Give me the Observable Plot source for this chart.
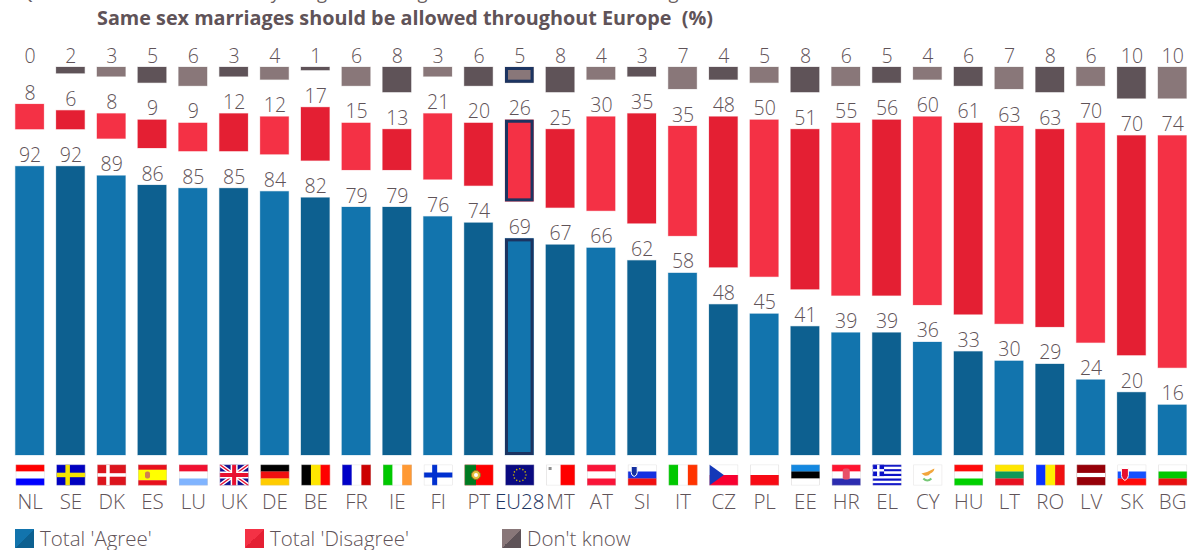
<!DOCTYPE html>
<html>
<head>
<meta charset="utf-8">
<script src="https://cdn.jsdelivr.net/npm/d3@7"></script>
<script src="https://cdn.jsdelivr.net/npm/@observablehq/plot@0.6"></script>
<style>
html,body{margin:0;padding:0;background:#fff;overflow:hidden;width:1188px;height:550px}
body{font-family:"Open Sans",sans-serif;color:#5f5358}
#head{position:relative;height:40px;overflow:hidden}
#question{position:absolute;left:20px;top:-21px;font-size:18.3px;white-space:nowrap;color:#6a5e61}
#question .code{display:inline-block;width:92px}
#title{position:absolute;left:97px;top:5px;font-size:19.8px;font-weight:700;white-space:nowrap;color:#5f5358;line-height:26px}
#legend{position:relative;height:32px;font-size:20.5px;font-weight:300}
#legend .item{position:absolute;top:9px;display:flex;align-items:center;height:22px;white-space:nowrap}
#legend .sw{width:19px;height:19px;margin-right:6px;display:inline-block}
svg{display:block}
</style>
</head>
<body>
<div id="head">
  <div id="question"><span class="code">QB15</span>To what extent do you agree or disagree with each of the following statements</div>
  <div id="title">Same sex marriages should be allowed throughout Europe&nbsp; (%)</div>
</div>
<div id="chart"></div>
<div id="legend"></div>
<script>
const codes = ["NL","SE","DK","ES","LU","UK","DE","BE","FR","IE","FI","PT","EU28","MT","AT","SI","IT","CZ","PL","EE","HR","EL","CY","HU","LT","RO","LV","SK","BG"];
const agree = [92,92,89,86,85,85,84,82,79,79,76,74,69,67,66,62,58,48,45,41,39,39,36,33,30,29,24,20,16];
const disagree = [8,6,8,9,9,12,12,17,15,13,21,20,26,25,30,35,35,48,50,51,55,56,60,61,63,63,70,70,74];
const dontKnow = [0,2,3,5,6,3,4,1,6,8,3,6,5,8,4,3,7,4,5,8,6,5,4,6,7,8,6,10,10];
const seriesNames = ["Total 'Agree'","Total 'Disagree'","Don't know"];
const highlighted = "EU28";

const gap = 11.8; // blank space between stacked segments, in value units
const rows = codes.flatMap((code, i) => {
  const shade = i % 2 ? "dark" : "light";
  const a = agree[i], d = disagree[i], k = dontKnow[i];
  return [
    {code, value:a, series:seriesNames[0], key:"a-"+shade, y1:0, y2:a},
    {code, value:d, series:seriesNames[1], key:"d-"+shade, y1:a+gap, y2:a+gap+d},
    {code, value:k, series:seriesNames[2], key:"k-"+shade, y1:a+gap+d+gap, y2:a+gap+d+gap+k}
  ];
});

const s = (c,w)=>{const n=c.length;return c.map((f,i)=>`<rect x="0" y="${i*21/n}" width="29" height="${21/n+.2}" fill="${f}"/>`).join("")};
const v = (c)=>{const n=c.length;return c.map((f,i)=>`<rect x="${i*29/n}" y="0" width="${29/n+.2}" height="21" fill="${f}"/>`).join("")};
const stars = Array.from({length:12},(_,i)=>`<circle cx="${14.5+6.2*Math.cos(i*Math.PI/6)}" cy="${10.5+6.2*Math.sin(i*Math.PI/6)}" r="0.8" fill="#c8b400"/>`).join("");
const greek = Array.from({length:9},(_,i)=>`<rect x="0" y="${i*21/9}" width="29" height="${21/9}" fill="${i%2?'#fff':'#0a10c8'}"/>`).join("");
const flags = {
  NL:s(["#ff0000","#fff","#0000ff"]),
  SE:`<rect width="29" height="21" fill="#0000c0"/><rect x="9" width="4.5" height="21" fill="#f5e400"/><rect y="8.2" width="29" height="4.5" fill="#f5e400"/>`,
  DK:`<rect width="29" height="21" fill="#dc141c"/><rect x="9" width="3.5" height="21" fill="#fff"/><rect y="8.7" width="29" height="3.5" fill="#fff"/>`,
  ES:s(["#e8101c","#ffff00","#ffff00","#e8101c"])+`<rect x="7" y="7" width="5" height="7" rx="2" fill="#d08050"/>`,
  LU:s(["#f01030","#fff","#80b4ff"]),
  UK:`<rect width="29" height="21" fill="#101090"/><path d="M0 0L29 21M29 0L0 21" stroke="#fff" stroke-width="4"/><path d="M0 0L29 21M29 0L0 21" stroke="#e81030" stroke-width="1.4"/><rect x="11" width="7" height="21" fill="#fff"/><rect y="7" width="29" height="7" fill="#fff"/><rect x="12.5" width="4" height="21" fill="#e81030"/><rect y="8.5" width="29" height="4" fill="#e81030"/>`,
  DE:s(["#000","#f01010","#ffcc00"]),
  BE:v(["#000","#ffe600","#ff0000"]),
  FR:v(["#0000c8","#fff","#cc0000"]),
  IE:v(["#00c800","#fff","#ff9933"]),
  FI:`<rect width="29" height="21" fill="#fff"/><rect x="8.5" width="5" height="21" fill="#0030d0"/><rect y="8" width="29" height="5" fill="#0030d0"/>`,
  PT:`<rect width="29" height="21" fill="#ff0000"/><rect width="11.5" height="21" fill="#007a20"/><circle cx="11.5" cy="10.5" r="4.5" fill="#e8c040" stroke="#907020"/><circle cx="11.5" cy="10.5" r="2" fill="#fff"/>`,
  EU28:`<rect width="29" height="21" fill="#0a0a80"/>`+stars,
  MT:v(["#fff","#ff0000"])+`<rect x="2.5" y="2.5" width="3" height="3" fill="#909090"/>`,
  AT:s(["#fa1438","#fff","#fa1438"]),
  SI:s(["#fff","#1430e0","#f01010"])+`<path d="M3.5 2h6v6q0 3-3 4q-3-1-3-4z" fill="#1430a0" stroke="#fff"/>`,
  IT:v(["#00c800","#fff","#ff3300"]),
  CZ:s(["#fff","#f80030"])+`<path d="M0 0L14.5 10.5L0 21z" fill="#1438b8"/>`,
  PL:s(["#fff","#f80a14"]),
  EE:s(["#1488e0","#000","#fff"]),
  HR:s(["#ff1430","#fff","#2c2cb0"])+`<rect x="11" y="4" width="7" height="11" rx="2" fill="#e85068"/>`,
  EL:greek+`<rect width="11.5" height="11.6" fill="#0a10c8"/><rect x="4.5" width="2.5" height="11.6" fill="#fff"/><rect y="4.6" width="11.5" height="2.4" fill="#fff"/>`,
  CY:`<rect width="29" height="21" fill="#fff"/><path d="M8 9q6-1 13-5q0 3-4 5q-2 3-6 2z" fill="#f2a63c"/><path d="M10 14q4 4 8 0" fill="none" stroke="#78c878" stroke-width="2"/>`,
  HU:s(["#ff0a0a","#fff","#00d000"]),
  LT:s(["#ffe600","#109858","#e81020"]),
  RO:v(["#0a32ff","#ffee00","#f01010"]),
  LV:`<rect width="29" height="21" fill="#960008"/><rect y="8.4" width="29" height="4.2" fill="#fff"/>`,
  SK:s(["#fff","#1450ff","#ff0a0a"])+`<path d="M4 4h7v7q0 3-3.5 5q-3.5-2-3.5-5z" fill="#e81030" stroke="#fff"/>`,
  BG:s(["#fff","#00c800","#e81010"])
};
const flagUrl = c => "data:image/svg+xml," + encodeURIComponent(
  `<svg xmlns="http://www.w3.org/2000/svg" viewBox="0 0 29 21" preserveAspectRatio="none">${flags[c]}<rect x=".3" y=".3" width="28.4" height="20.4" fill="none" stroke="#c8c4c4" stroke-width=".6" opacity=".7"/></svg>`);

const labelColor = "#5f5358";
const isEU = r => r.code === highlighted;

const chart = Plot.plot({
  width: 1188,
  height: 478,
  marginLeft: 15.3,
  marginRight: 1.5,
  marginTop: 27,
  marginBottom: 63,
  style: {fontFamily: '"Open Sans",sans-serif', background: "#fff", fontWeight: 300},
  x: {domain: codes, paddingInner: 0.3, paddingOuter: 0.0001, round: false, label: null, axis: null},
  y: {domain: [0, 100 + 2 * gap], axis: null, label: null},
  color: {
    domain: ["a-light","a-dark","d-light","d-dark","k-light","k-dark"],
    range: ["#1274ad","#0d6090","#f43145","#e41f33","#897779","#5f5358"]
  },
  marks: [
    Plot.barY(rows, {x: "code", y1: "y1", y2: "y2", fill: "key", stroke: "key", strokeOpacity: 0.25, strokeWidth: 1}),
    Plot.barY(rows.filter(isEU), {x: "code", y1: "y1", y2: "y2", fill: "none", stroke: "#1c3461", strokeWidth: 3, inset: 1.5}),
    Plot.text(rows, {x: "code", y: "y2", text: d => String(d.value), dy: -5, lineAnchor: "bottom", fill: labelColor, fontSize: 19.5}),
    Plot.image(codes, {x: d => d, frameAnchor: "bottom", dy: 19.5, src: flagUrl, width: 29, height: 21, preserveAspectRatio: "none"}),
    Plot.axisX(codes.filter(c => c !== highlighted), {tickSize: 0, tickPadding: 39, fontSize: 20.5, color: labelColor, label: null}),
    Plot.axisX([highlighted], {tickSize: 0, tickPadding: 39, fontSize: 20.5, color: "#1c3461", label: null})
  ]
});
document.getElementById("chart").append(chart);

const legendColors = [["#1274ad","#0d6090"],["#f43145","#e41f33"],["#897779","#5f5358"]];
const legendLeft = [15, 245, 502];
const legend = document.getElementById("legend");
seriesNames.forEach((n,i)=>{
  const it = document.createElement("div");
  it.className = "item";
  it.style.left = legendLeft[i] + "px";
  it.innerHTML = `<span class="sw" style="background:linear-gradient(135deg,${legendColors[i][0]} 50%,${legendColors[i][1]} 50%)"></span><span>${n}</span>`;
  legend.append(it);
});
</script>
</body>
</html>
